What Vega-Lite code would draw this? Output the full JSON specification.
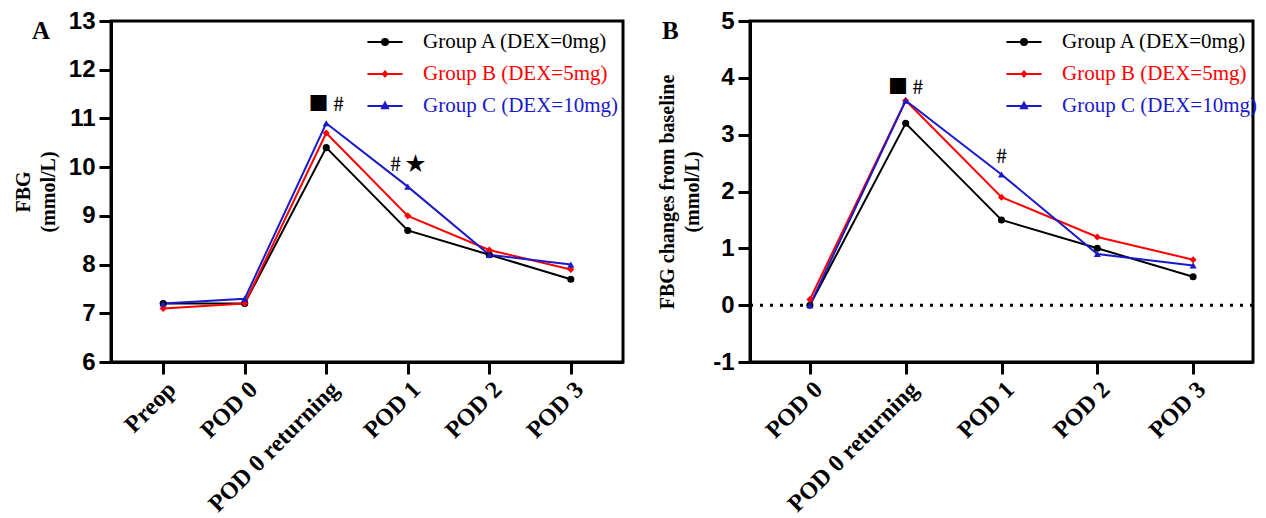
{
  "$schema": "https://vega.github.io/schema/vega-lite/v6.json",
  "background": "white",
  "padding": {"left": 11, "top": 7, "right": 5, "bottom": 5},
  "bounds": "flush",
  "spacing": 127,
  "config": {
    "view": {"stroke": "black", "strokeWidth": 3},
    "axis": {"grid": false, "domainColor": "black", "domainWidth": 3, "tickColor": "black", "tickWidth": 3, "tickSize": 12, "labelColor": "black", "titleColor": "black"},
    "axisX": {"labelAngle": -45, "labelFont": "Liberation Serif", "labelFontWeight": "bold", "labelFontSize": 24, "labelPadding": 3, "title": null},
    "axisY": {"labelFont": "Liberation Sans", "labelFontWeight": "bold", "labelFontSize": 24, "labelPadding": 4, "labelExpr": "'' + datum.value", "titleFont": "Liberation Serif", "titleFontSize": 20, "titleFontWeight": "bold", "titleLineHeight": 25, "titlePadding": 10}
  },
  "datasets": {
    "a": [
      {"time": "Preop", "group": "Group A (DEX=0mg)", "fbg": 7.2},
      {"time": "POD 0", "group": "Group A (DEX=0mg)", "fbg": 7.2},
      {"time": "POD 0 returning", "group": "Group A (DEX=0mg)", "fbg": 10.4},
      {"time": "POD 1", "group": "Group A (DEX=0mg)", "fbg": 8.7},
      {"time": "POD 2", "group": "Group A (DEX=0mg)", "fbg": 8.2},
      {"time": "POD 3", "group": "Group A (DEX=0mg)", "fbg": 7.7},
      {"time": "Preop", "group": "Group B (DEX=5mg)", "fbg": 7.1},
      {"time": "POD 0", "group": "Group B (DEX=5mg)", "fbg": 7.2},
      {"time": "POD 0 returning", "group": "Group B (DEX=5mg)", "fbg": 10.7},
      {"time": "POD 1", "group": "Group B (DEX=5mg)", "fbg": 9.0},
      {"time": "POD 2", "group": "Group B (DEX=5mg)", "fbg": 8.3},
      {"time": "POD 3", "group": "Group B (DEX=5mg)", "fbg": 7.9},
      {"time": "Preop", "group": "Group C (DEX=10mg)", "fbg": 7.2},
      {"time": "POD 0", "group": "Group C (DEX=10mg)", "fbg": 7.3},
      {"time": "POD 0 returning", "group": "Group C (DEX=10mg)", "fbg": 10.9},
      {"time": "POD 1", "group": "Group C (DEX=10mg)", "fbg": 9.6},
      {"time": "POD 2", "group": "Group C (DEX=10mg)", "fbg": 8.2},
      {"time": "POD 3", "group": "Group C (DEX=10mg)", "fbg": 8.0}
    ],
    "b": [
      {"time": "POD 0", "group": "Group A (DEX=0mg)", "chg": 0.0},
      {"time": "POD 0 returning", "group": "Group A (DEX=0mg)", "chg": 3.2},
      {"time": "POD 1", "group": "Group A (DEX=0mg)", "chg": 1.5},
      {"time": "POD 2", "group": "Group A (DEX=0mg)", "chg": 1.0},
      {"time": "POD 3", "group": "Group A (DEX=0mg)", "chg": 0.5},
      {"time": "POD 0", "group": "Group B (DEX=5mg)", "chg": 0.1},
      {"time": "POD 0 returning", "group": "Group B (DEX=5mg)", "chg": 3.6},
      {"time": "POD 1", "group": "Group B (DEX=5mg)", "chg": 1.9},
      {"time": "POD 2", "group": "Group B (DEX=5mg)", "chg": 1.2},
      {"time": "POD 3", "group": "Group B (DEX=5mg)", "chg": 0.8},
      {"time": "POD 0", "group": "Group C (DEX=10mg)", "chg": 0.0},
      {"time": "POD 0 returning", "group": "Group C (DEX=10mg)", "chg": 3.6},
      {"time": "POD 1", "group": "Group C (DEX=10mg)", "chg": 2.3},
      {"time": "POD 2", "group": "Group C (DEX=10mg)", "chg": 0.9},
      {"time": "POD 3", "group": "Group C (DEX=10mg)", "chg": 0.7}
    ],
    "annA": [
      {"time": "POD 0 returning", "y": 11.28, "label": "■ #"},
      {"time": "POD 1", "y": 10.04, "label": "# ★"}
    ],
    "annB": [
      {"time": "POD 0 returning", "y": 3.82, "label": "■ #"},
      {"time": "POD 1", "y": 2.6, "label": "#"}
    ],
    "baseline": [
      {"ref": 0}
    ]
  },
  "resolve": {"legend": {"color": "independent"}},
  "hconcat": [
    {
      "width": 512,
      "height": 341,
      "title": {"text": "A", "anchor": "start", "frame": "group", "dx": -79, "dy": 55, "offset": 0, "baseline": "alphabetic", "fontSize": 25, "font": "Liberation Serif", "fontWeight": "bold", "color": "black"},
      "layer": [
        {
          "data": {"name": "a"},
          "mark": {"type": "line", "strokeWidth": 2},
          "encoding": {
            "x": {"field": "time", "type": "ordinal", "scale": {"type": "point", "padding": 0.64, "domain": ["Preop", "POD 0", "POD 0 returning", "POD 1", "POD 2", "POD 3"]}, "axis": {"title": null}},
            "y": {"field": "fbg", "type": "quantitative", "scale": {"domain": [6, 13], "nice": false, "zero": false}, "axis": {"values": [6, 7, 8, 9, 10, 11, 12, 13], "title": ["FBG", "(mmol/L)"]}},
            "color": {
              "field": "group", "type": "nominal",
              "scale": {"domain": ["Group A (DEX=0mg)", "Group B (DEX=5mg)", "Group C (DEX=10mg)"], "range": ["#000000", "#ff0000", "#1a1ac8"]},
              "legend": {
                "orient": "none", "legendX": 258, "legendY": 5, "title": null, "symbolSize": 900, "padding": 0, "rowPadding": 6,
                "labelFont": "Liberation Serif", "labelFontSize": 21, "labelOffset": 22, "labelLimit": 400,
                "encode": {
                  "symbols": {"update": {
                    "shape": {"signal": "datum.value === 'Group A (DEX=0mg)' ? 'M-1.17,0H1.17M0.2,0A0.2,0.2 0 1 1 -0.2,0A0.2,0.2 0 1 1 0.2,0' : datum.value === 'Group B (DEX=5mg)' ? 'M-1.17,0H1.17M0,-0.17L0.14,0L0,0.17L-0.14,0Z' : 'M-1.17,0H1.17M0,-0.22L0.2,0.15L-0.2,0.15Z'"},
                    "fill": {"signal": "datum.value === 'Group A (DEX=0mg)' ? '#000000' : datum.value === 'Group B (DEX=5mg)' ? '#ff0000' : '#1a1ac8'"},
                    "stroke": {"signal": "datum.value === 'Group A (DEX=0mg)' ? '#000000' : datum.value === 'Group B (DEX=5mg)' ? '#ff0000' : '#1a1ac8'"},
                    "strokeWidth": {"value": 2},
                    "opacity": {"value": 1}
                  }},
                  "labels": {"update": {
                    "fill": {"signal": "datum.value === 'Group A (DEX=0mg)' ? '#000000' : datum.value === 'Group B (DEX=5mg)' ? '#ff0000' : '#1a1ac8'"}
                  }}
                }
              }
            }
          }
        },
        {
          "data": {"name": "a"},
          "mark": {"type": "point", "filled": true, "size": 50, "opacity": 1},
          "encoding": {
            "x": {"field": "time", "type": "ordinal"},
            "y": {"field": "fbg", "type": "quantitative"},
            "color": {"field": "group", "type": "nominal"},
            "shape": {"field": "group", "type": "nominal", "scale": {"domain": ["Group A (DEX=0mg)", "Group B (DEX=5mg)", "Group C (DEX=10mg)"], "range": ["circle", "diamond", "triangle-up"]}, "legend": null}
          }
        },
        {
          "data": {"name": "annA"},
          "mark": {"type": "text", "font": "Noto Sans CJK SC", "fontSize": 20, "color": "black", "align": "center", "baseline": "middle"},
          "encoding": {
            "x": {"field": "time", "type": "ordinal"},
            "y": {"field": "y", "type": "quantitative"},
            "text": {"field": "label"}
          }
        }
      ]
    },
    {
      "width": 503,
      "height": 341,
      "title": {"text": "B", "anchor": "start", "frame": "group", "dx": -88, "dy": 55, "offset": 0, "baseline": "alphabetic", "fontSize": 25, "font": "Liberation Serif", "fontWeight": "bold", "color": "black"},
      "layer": [
        {
          "data": {"name": "baseline"},
          "mark": {"type": "rule", "strokeDash": [3, 7], "strokeWidth": 3, "color": "black"},
          "encoding": {"y": {"field": "ref", "type": "quantitative"}}
        },
        {
          "data": {"name": "b"},
          "mark": {"type": "line", "strokeWidth": 2},
          "encoding": {
            "x": {"field": "time", "type": "ordinal", "scale": {"type": "point", "padding": 0.625, "domain": ["POD 0", "POD 0 returning", "POD 1", "POD 2", "POD 3"]}, "axis": {"title": null}},
            "y": {"field": "chg", "type": "quantitative", "scale": {"domain": [-1, 5], "nice": false, "zero": false}, "axis": {"values": [-1, 0, 1, 2, 3, 4, 5], "title": ["FBG changes from baseline", "(mmol/L)"]}},
            "color": {
              "field": "group", "type": "nominal",
              "scale": {"domain": ["Group A (DEX=0mg)", "Group B (DEX=5mg)", "Group C (DEX=10mg)"], "range": ["#000000", "#ff0000", "#1a1ac8"]},
              "legend": {
                "orient": "none", "legendX": 258, "legendY": 5, "title": null, "symbolSize": 900, "padding": 0, "rowPadding": 6,
                "labelFont": "Liberation Serif", "labelFontSize": 21, "labelOffset": 22, "labelLimit": 400,
                "encode": {
                  "symbols": {"update": {
                    "shape": {"signal": "datum.value === 'Group A (DEX=0mg)' ? 'M-1.17,0H1.17M0.2,0A0.2,0.2 0 1 1 -0.2,0A0.2,0.2 0 1 1 0.2,0' : datum.value === 'Group B (DEX=5mg)' ? 'M-1.17,0H1.17M0,-0.17L0.14,0L0,0.17L-0.14,0Z' : 'M-1.17,0H1.17M0,-0.22L0.2,0.15L-0.2,0.15Z'"},
                    "fill": {"signal": "datum.value === 'Group A (DEX=0mg)' ? '#000000' : datum.value === 'Group B (DEX=5mg)' ? '#ff0000' : '#1a1ac8'"},
                    "stroke": {"signal": "datum.value === 'Group A (DEX=0mg)' ? '#000000' : datum.value === 'Group B (DEX=5mg)' ? '#ff0000' : '#1a1ac8'"},
                    "strokeWidth": {"value": 2},
                    "opacity": {"value": 1}
                  }},
                  "labels": {"update": {
                    "fill": {"signal": "datum.value === 'Group A (DEX=0mg)' ? '#000000' : datum.value === 'Group B (DEX=5mg)' ? '#ff0000' : '#1a1ac8'"}
                  }}
                }
              }
            }
          }
        },
        {
          "data": {"name": "b"},
          "mark": {"type": "point", "filled": true, "size": 50, "opacity": 1},
          "encoding": {
            "x": {"field": "time", "type": "ordinal"},
            "y": {"field": "chg", "type": "quantitative"},
            "color": {"field": "group", "type": "nominal"},
            "shape": {"field": "group", "type": "nominal", "scale": {"domain": ["Group A (DEX=0mg)", "Group B (DEX=5mg)", "Group C (DEX=10mg)"], "range": ["circle", "diamond", "triangle-up"]}, "legend": null}
          }
        },
        {
          "data": {"name": "annB"},
          "mark": {"type": "text", "font": "Noto Sans CJK SC", "fontSize": 20, "color": "black", "align": "center", "baseline": "middle"},
          "encoding": {
            "x": {"field": "time", "type": "ordinal"},
            "y": {"field": "y", "type": "quantitative"},
            "text": {"field": "label"}
          }
        }
      ]
    }
  ]
}
